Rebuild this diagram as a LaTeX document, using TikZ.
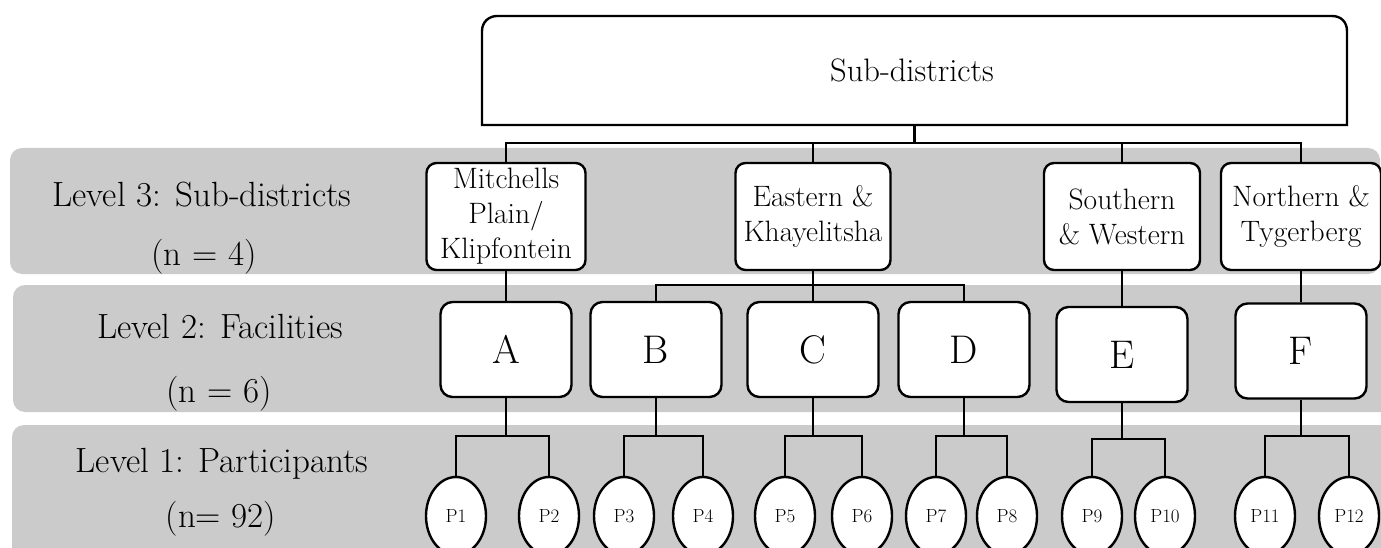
\documentclass[tikz,border=0pt]{standalone}
\usepackage{fontspec}
\usetikzlibrary{shapes.geometric}
\definecolor{bandgray}{RGB}{203,203,203}
\begin{document}
\begin{tikzpicture}[x=1pt,y=-1pt,
  wire/.style={line width=2.4pt},
  band/.style={fill=bandgray,rounded corners=12pt},
  lbl/.style={anchor=base,inner sep=0pt,font=\fontsize{35}{40}\selectfont},
  distbox/.style={draw,line width=2.4pt,fill=white,rounded corners=10pt,
    minimum height=107pt,inner sep=0pt,align=center,
    font=\fontsize{29.5}{35}\selectfont},
  facbox/.style={draw,line width=2.4pt,fill=white,rounded corners=12pt,
    minimum width=131pt,minimum height=95pt,inner sep=0pt,
    font=\fontsize{40}{44}\selectfont},
  partnode/.style={ellipse,draw,line width=2.4pt,fill=white,
    minimum width=60pt,minimum height=78pt,inner sep=0pt,
    font=\fontsize{19}{19}\selectfont}]
\useasboundingbox (0,0) rectangle (1381,548);
\clip (0,0) rectangle (1381,548);

% level bands
\fill[band] (10,148) rectangle (1380,274);
\fill[band] (13,285) rectangle (1400,412);
\fill[band] (12,425) rectangle (1400,580);

% level labels
\node[lbl] (l3) at (202,207) {Level 3: Sub-districts};
\node[lbl] (n3) at (204,265) {(n = 4)};
\node[lbl] (l2) at (220,338) {Level 2: Facilities};
\node[lbl] (n2) at (219,402) {(n = 6)};
\node[lbl] (l1) at (222,472) {Level 1: Participants};
\node[lbl] (n1) at (221,527) {(n= 92)};

% top box: rounded top corners, square bottom corners
\node[minimum width=865pt,minimum height=109pt,inner sep=0pt,
  font=\fontsize{32.5}{38}\selectfont] (top) at (912,70.5) {Sub-districts};
\draw[wire] (482,125) -- (482,31) .. controls (482,22) and (489,16) .. (497,16)
  -- (1332,16) .. controls (1341,16) and (1347,22) .. (1347,31) -- (1347,125) -- cycle;

% sub-district boxes
\node[distbox,minimum width=159pt] (mp) at (506,216.5) {Mitchells\\Plain/\\Klipfontein};
\node[distbox,minimum width=155pt] (ek) at (813,216.5) {Eastern \&\\Khayelitsha};
\node[distbox,minimum width=156pt] (sw) at (1122,216.5) {Southern\\\& Western};
\node[distbox,minimum width=160pt] (nt) at (1301,216.5) {Northern \&\\Tygerberg};

% facility boxes
\node[facbox] (A) at (506,349.5) {A};
\node[facbox] (B) at (656,349.5) {B};
\node[facbox] (C) at (813,349.5) {C};
\node[facbox] (D) at (964,349.5) {D};
\node[facbox] (E) at (1122,354.5) {E};
\node[facbox] (F) at (1301,351) {F};

% participants
\foreach \name/\x in {p1/456,p2/549,p3/624,p4/703,p5/785,p6/862,
                      p7/936,p8/1007,p9/1092,p10/1165,p11/1265,p12/1349}{
  \node[partnode] (\name) at (\x,516) {\MakeUppercase{\name}};
}

% connectors: top box to sub-districts
\coordinate (hub) at (914.5,143);
\draw[wire] (top.south -| hub) -- (hub);
\draw[wire] (mp.north) |- (nt.north |- hub) -- (nt.north);
\draw[wire] (ek.north) -- (ek.north |- hub);
\draw[wire] (sw.north) -- (sw.north |- hub);

% sub-districts to facilities
\draw[wire] (mp.south) -- (A.north);
\draw[wire] (ek.south) -- (C.north);
\draw[wire] (B.north) -- ++(0,-16) -| (D.north);
\draw[wire] (sw.south) -- (E.north);
\draw[wire] (nt.south) -- (F.north);

% facilities to participants
\foreach \fac/\pa/\pb/\drop in {A/p1/p2/40,B/p3/p4/40,C/p5/p6/40,D/p7/p8/40,
                                E/p9/p10/37,F/p11/p12/40}{
  \draw[wire] (\pa.north) -- ++(0,-\drop) coordinate (bus\fac) -| (\pb.north);
  \draw[wire] (\fac.south) -- (\fac.south |- bus\fac);
}
\end{tikzpicture}
\end{document}
